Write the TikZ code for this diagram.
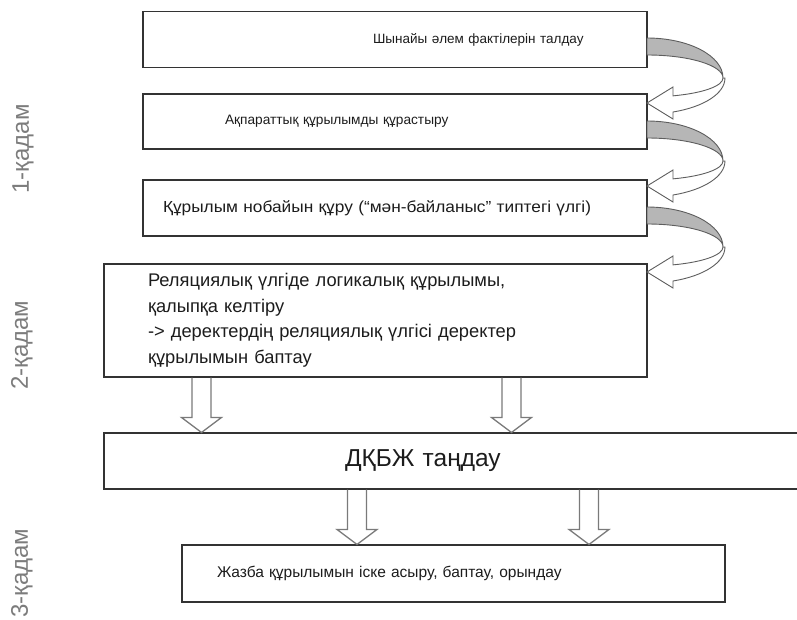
\documentclass[tikz,border=0pt]{standalone}
\usepackage{fontspec}
\setmainfont{Liberation Sans}
\usetikzlibrary{calc}
\definecolor{boxline}{HTML}{333333}
\definecolor{inktext}{HTML}{1C1C1C}
\definecolor{stagegray}{HTML}{7C7C7C}
\definecolor{bandgray}{HTML}{B6B6B6}
\definecolor{bandline}{HTML}{5E5E5E}
\definecolor{hollowline}{HTML}{7A7A7A}
\tikzset{
	box/.style={draw=boxline, line width=1.1pt, inner xsep=0pt, inner ysep=0pt, align=left, text=inktext, font=\fontsize{13.5}{17}\selectfont},
	stagelabel/.style={text=stagegray, rotate=90, font=\fontsize{24}{28}\selectfont},
	bandback/.style={fill=bandgray, draw=bandline, line width=0.9pt},
	bandfront/.style={fill=white, draw=bandline, line width=0.9pt},
	hollow/.style={draw=hollowline, line width=1.3pt, line join=miter}
}
\def\twistarrow(#1,#2){\begin{scope}[shift={(#1,#2)}]
	\draw[bandback] (0,0) arc (90:0:76pt and 40pt) arc (0:90:76pt and 23pt) -- cycle;
	\draw[bandfront] (76,40) arc (0:-70:76pt and 19pt) -- (26,49) -- (0,65) -- (26,81) -- (26,74) arc (-70.5:0:78pt and 36pt) -- cycle;
	\end{scope}}
\def\droparrow(#1)(#2)(#3){\draw[hollow] let \p1=(#2.south), \p2=(#3.north) in
	({#1pt-9.5pt},\y1) -- ({#1pt-9.5pt},\y2+15pt) -- ({#1pt-20pt},\y2+15pt) -- (#1pt,\y2) -- ({#1pt+20pt},\y2+15pt) -- ({#1pt+9.5pt},\y2+15pt) -- ({#1pt+9.5pt},\y1);}

\begin{document}
\begin{tikzpicture}[x=1pt, y=-1pt]
			%%%%% START %%%%%
			\useasboundingbox (0,0) rectangle (797,619);
			
			\node[stagelabel] (stage1) at (23,149) {1-қадам};
			\node[stagelabel] (stage2) at (22,345) {2-қадам};
			\node[stagelabel] (stage3) at (22,573) {3-қадам};
			
			\node[box, text width=504pt, minimum height=56pt] (facts) at (395,39.5) {\hspace*{230pt}Шынайы әлем фактілерін талдау};
			\node[box, text width=504pt, minimum height=55pt, font=\fontsize{13.7}{17}\selectfont] (infostruct) at (395,121.5) {\hspace*{82pt}Ақпараттық құрылымды құрастыру};
			\node[box, text width=504pt, minimum height=56pt, font=\addfontfeature{FakeStretch=1.08}\fontsize{16}{19}\selectfont] (erdraft) at (395,208) {\hspace*{20pt}Құрылым нобайын құру (“мән-байланыс” типтегі үлгі)};
			\node[box, inner xsep=44pt, text width=455pt, minimum height=113pt, font=\fontsize{18.3}{25.5}\selectfont] (relmodel) at (375.5,320.5) {Реляциялық үлгіде логикалық құрылымы,\\қалыпқа келтіру\\-> деректердің реляциялық үлгісі деректер\\құрылымын баптау};
			\node[box, text width=700pt, minimum height=56pt, font=\fontsize{24.5}{28}\selectfont] (dbms) at (454,461) {\hspace*{241pt}ДҚБЖ таңдау};
			\node[box, text width=543pt, minimum height=57pt, font=\fontsize{15.5}{19}\selectfont] (impl) at (453.5,573.5) {\hspace*{35pt}Жазба құрылымын іске асыру, баптау, орындау};
			
			\twistarrow(647,38)
			\twistarrow(647,121)
			\twistarrow(647,207)
			
			\droparrow(201.5)(relmodel)(dbms)
			\droparrow(511.5)(relmodel)(dbms)
			\droparrow(357)(dbms)(impl)
			\droparrow(589)(dbms)(impl)
			
			%%%%% END %%%%%
		\end{tikzpicture}
\end{document}
